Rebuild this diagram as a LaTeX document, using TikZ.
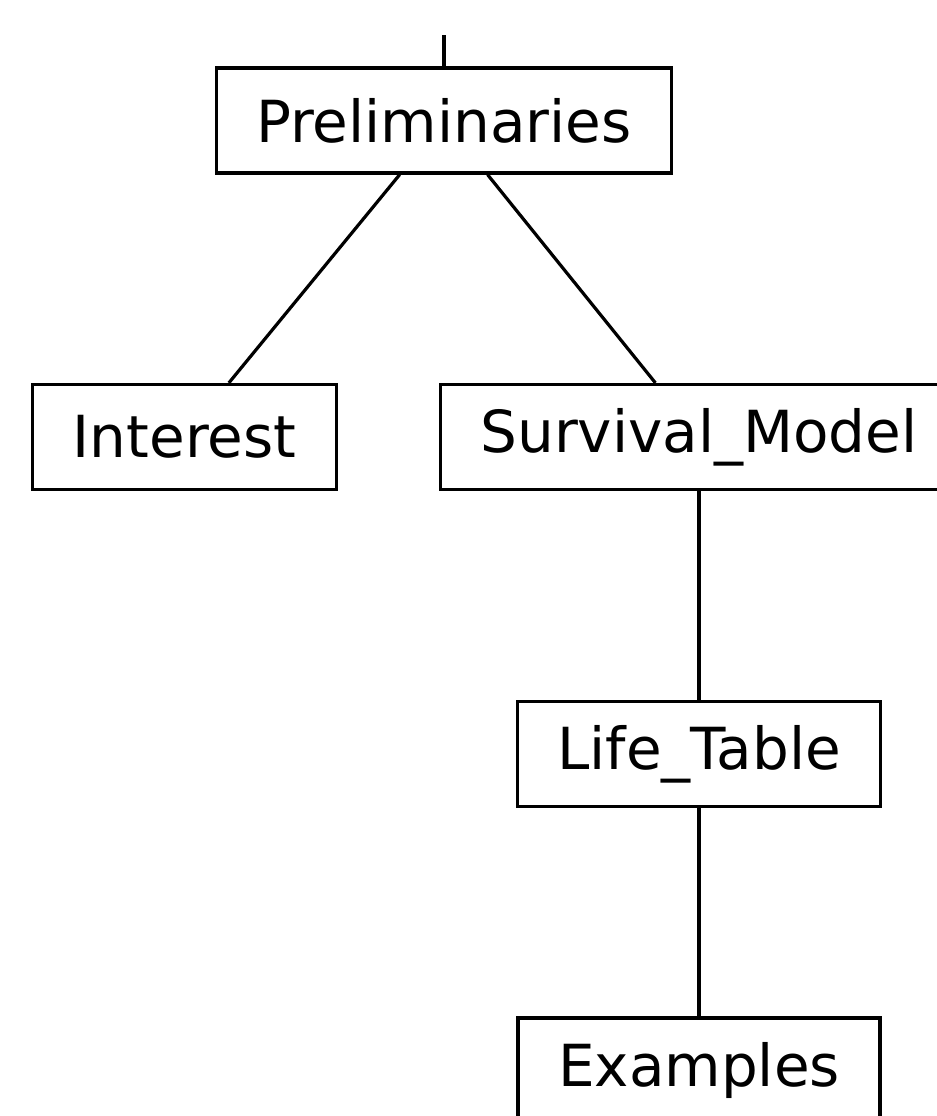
\documentclass[tikz,border=0pt]{standalone}
\usepackage{fontspec}
\setmainfont{DejaVu Sans}
\usetikzlibrary{positioning}
\tikzset{topic/.style={draw, line width=1.6pt, font=\fontsize{29}{35}\selectfont, inner xsep=20pt, minimum height=52.5pt}, link/.style={line width=1.6pt}}

\begin{document}
\begin{tikzpicture}[x=0.5pt,y=-0.5pt]
\useasboundingbox (0,0) rectangle (937,1116);
\clip (0,0) rectangle (937,1116);
\coordinate (root) at (444,35);
\node[topic] (prelim) at (444,120.5) {Preliminaries};
\node[topic] (interest) at (184.5,437) {Interest};
\node[topic] (survival) at (699,437) {Survival\_Model};
\node[topic] (lifetable) at (699,754) {Life\_Table};
\node[topic] (examples) at (699,1070.5) {Examples};
\draw[link] (root) -- (prelim);
\draw[link] (prelim) -- (interest);
\draw[link] (prelim) -- (survival);
\draw[link] (survival) -- (lifetable);
\draw[link] (lifetable) -- (examples);
\end{tikzpicture}
\end{document}
